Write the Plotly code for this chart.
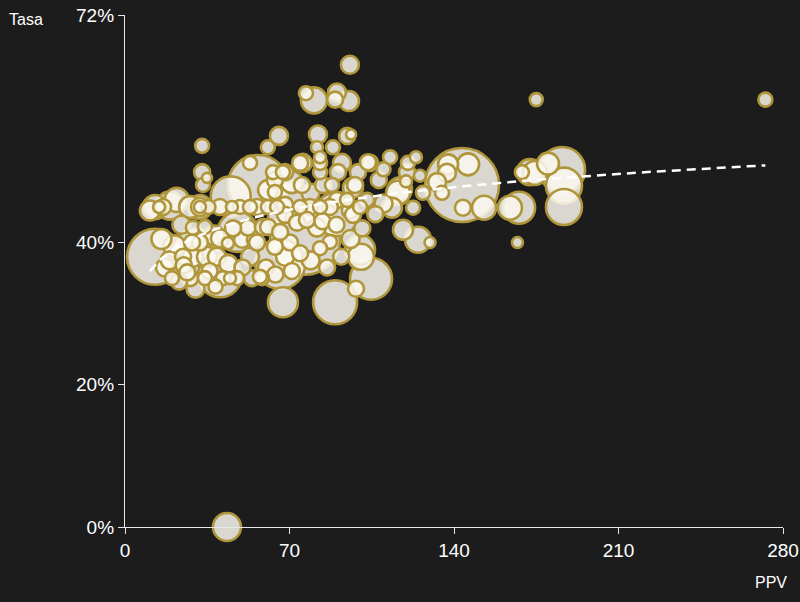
import numpy as np
import plotly.graph_objects as go

# PPV (x), Tasa in % (y), bubble size value
ppv = [43.4, 95.7, 175.0, 272.5, 167.0, 129.8,
       77.0, 80.4, 90.2, 95.3, 89.4, 65.5, 60.8, 82.1, 81.7, 88.5, 94.5, 96.2, 83.0, 112.8, 120.4, 123.8,
       32.8, 32.8, 34.9, 33.2, 53.2,
       75.7, 68.1, 63.0, 90.6, 99.1, 104.3, 92.3, 83.0, 75.3, 97.9, 88.1, 63.8, 68.1, 90.2, 103.0, 117.0, 113.6,
       84.3, 97.0, 103.4, 94.5, 60.9, 63.8, 67.2, 74.5, 83.0, 56.6, 71.0, 79.0, 108.0, 110.0,
       143.4, 137.0, 132.8, 134.9, 143.8, 152.8, 120.0, 119.6, 125.5, 116.2, 126.8, 122.6, 118.3, 124.7,
       163.8, 167.7, 172.3, 168.9, 174.5, 186.0, 180.0, 186.8, 186.8, 137.5, 146.0, 110.0, 106.5,
       12.8, 10.6, 12.8, 16.2, 19.1, 14.5, 27.7, 31.9, 31.9, 31.9, 35.5, 40.4, 45.5, 48.9, 53.2, 56.2,
       60.8, 64.7, 74.5, 78.7, 83.0, 87.2, 95.7, 100.0, 22.0, 45.0, 70.0,
       20.0, 27.7, 34.0, 41.7, 44.7, 47.7, 54.0, 58.3,
       28.9, 34.0, 31.9, 28.5, 24.7, 28.9, 34.9, 39.1, 40.4, 43.8, 49.8, 55.3, 52.3, 46.0, 56.2, 58.7,
       60.9, 64.7, 68.1, 73.2, 77.9, 81.7, 87.2, 83.0, 77.4, 97.0, 68.1, 63.8, 53.2, 57.4, 70.2, 74.5,
       84.0, 90.0, 92.0, 38.0, 21.0, 24.0, 66.0, 79.0, 86.0, 96.0, 101.0, 44.0, 50.0, 60.0, 64.0, 71.0,
       76.6, 30.5, 40.4, 48.0, 66.0, 90.0, 100.0,
       67.2, 89.4, 104.7, 100.4, 98.3,
       17.0, 23.0, 30.0, 36.0, 25.0, 38.5, 15.5, 19.0, 26.5]

tasa = [0.0, 65.0, 60.1, 60.1, 40.0, 40.0,
        61.0, 60.0, 61.1, 59.9, 60.1, 55.0, 53.4, 55.2, 53.4, 53.4, 55.0, 55.2, 52.0, 52.0, 51.2, 52.0,
        53.6, 49.9, 49.1, 48.1, 51.2,
        51.2, 49.9, 49.9, 49.9, 49.9, 51.2, 51.2, 49.9, 48.1, 48.1, 48.1, 47.1, 45.3, 46.0, 46.0, 47.5, 44.9,
        48.1, 47.7, 51.3, 46.0, 47.4, 48.8, 49.9, 51.2, 51.2, 48.1, 48.5, 47.0, 48.8, 50.3,
        48.1, 49.8, 48.5, 47.0, 44.9, 44.9, 49.9, 48.6, 49.4, 47.0, 47.0, 44.9, 41.8, 40.4,
        44.9, 44.9, 49.9, 49.9, 49.8, 50.2, 51.1, 48.0, 45.0, 51.0, 51.0, 45.5, 44.0,
        38.0, 44.5, 45.0, 45.0, 45.2, 45.0, 45.0, 45.0, 45.0, 45.0, 45.0, 45.0, 45.0, 45.0, 45.0, 45.0,
        45.0, 45.0, 45.0, 45.0, 45.0, 45.0, 44.5, 45.0, 46.0, 46.5, 46.5,
        35.0, 35.0, 35.0, 35.0, 35.0, 35.0, 35.0, 35.0,
        42.1, 42.2, 40.0, 40.0, 38.0, 38.0, 38.0, 38.0, 40.6, 39.9, 40.4, 40.4, 42.1, 42.0, 40.0, 42.2,
        42.2, 43.6, 43.9, 42.8, 44.2, 42.1, 40.1, 39.2, 43.2, 43.9, 38.0, 39.4, 38.0, 35.2, 40.0, 38.5,
        43.0, 42.5, 38.0, 41.0, 39.5, 42.5, 41.5, 37.5, 36.5, 40.5, 42.0, 37.0, 36.5, 36.5, 35.5, 36.0,
        40.4, 38.5, 35.4, 41.5, 37.0, 44.0, 39.0,
        31.6, 31.6, 34.9, 38.0, 33.5,
        36.5, 34.5, 33.5, 36.0, 36.8, 33.8, 40.5, 37.5, 35.8]

tamano = [28, 18, 13, 14, 11, 11,
          14, 26, 18, 20, 16, 18, 14, 18, 12, 14, 16, 10, 12, 14, 14, 12,
          14, 16, 10, 14, 14,
          18, 16, 14, 16, 16, 16, 18, 14, 16, 16, 14, 14, 16, 16, 14, 24, 20,
          16, 20, 16, 14, 20, 16, 14, 16, 14, 60, 22, 18, 16, 14,
          74, 18, 18, 14, 16, 24, 16, 12, 12, 24, 14, 14, 20, 26,
          24, 32, 26, 14, 24, 46, 22, 36, 36, 20, 22, 18, 16,
          56, 20, 24, 16, 28, 12, 22, 24, 18, 12, 14, 16, 12, 14, 14, 16,
          14, 14, 14, 16, 14, 16, 16, 14, 24, 40, 30,
          14, 16, 14, 14, 12, 14, 16, 14,
          14, 14, 16, 16, 16, 20, 20, 18, 18, 12, 16, 16, 16, 16, 16, 16,
          16, 18, 16, 16, 20, 18, 14, 14, 16, 16, 18, 16, 18, 14, 16, 16,
          16, 16, 16, 20, 22, 18, 16, 18, 16, 18, 16, 18, 16, 16, 16, 16,
          70, 50, 44, 40, 50, 44, 30,
          30, 44, 42, 26, 16,
          18, 16, 18, 16, 16, 14, 20, 18, 16]

y_ticks = [0, 20, 40, 72]
x_ticks = [0, 70, 140, 210, 280]

x = np.array(ppv)
y = np.array(tasa)
s = np.array(tamano)

# draw large bubbles first
order = np.argsort(-s, kind="stable")

fig = go.Figure()
fig.add_trace(go.Scatter(
    x=x[order], y=y[order], mode="markers",
    marker=dict(size=s[order], sizemode="diameter", opacity=1,
                color="rgba(250,248,240,0.85)",
                line=dict(color="#b0963a", width=2.6)),
    hoverinfo="skip", showlegend=False, cliponaxis=False))

# logarithmic trend line fitted from the data
b, a = np.polyfit(np.log(x[x > 0]), y[x > 0], 1)
xt = np.linspace(x.min(), x.max(), 200)
fig.add_trace(go.Scatter(x=xt, y=a + b * np.log(xt), mode="lines",
                         line=dict(color="white", width=2.5, dash="9px,6px"),
                         hoverinfo="skip", showlegend=False))

fig.update_layout(
    width=800, height=602,
    margin=dict(l=125, r=17, t=15, b=75, autoexpand=False),
    paper_bgcolor="#1c1c1c", plot_bgcolor="#1c1c1c",
    font=dict(family="Liberation Sans, Arial, sans-serif", color="white", size=19),
    xaxis=dict(range=[0, 280], tickvals=x_ticks, showgrid=False, zeroline=False, automargin=False,
               showline=True, linecolor="#e8e8e8", linewidth=1.3,
               ticks="outside", ticklen=6, tickcolor="#e8e8e8", tickwidth=1.3),
    yaxis=dict(range=[0, 72], tickvals=y_ticks, ticktext=[f"{v}%" for v in y_ticks],
               showgrid=False, zeroline=False, automargin=False,
               showline=True, linecolor="#e8e8e8", linewidth=1.3,
               ticks="outside", ticklen=6, tickcolor="#e8e8e8", tickwidth=1.3),
    annotations=[
        dict(text="Tasa", xref="paper", yref="paper", x=(7 - 125) / 658, y=(527 - 19) / 512,
             xanchor="left", yanchor="middle", showarrow=False, font=dict(size=16, color="white")),
        dict(text="PPV", xref="paper", yref="paper", x=(789 - 125) / 658, y=(527 - 582) / 512,
             xanchor="right", yanchor="middle", showarrow=False, font=dict(size=16, color="white")),
    ],
)
fig.write_html("out.html")
